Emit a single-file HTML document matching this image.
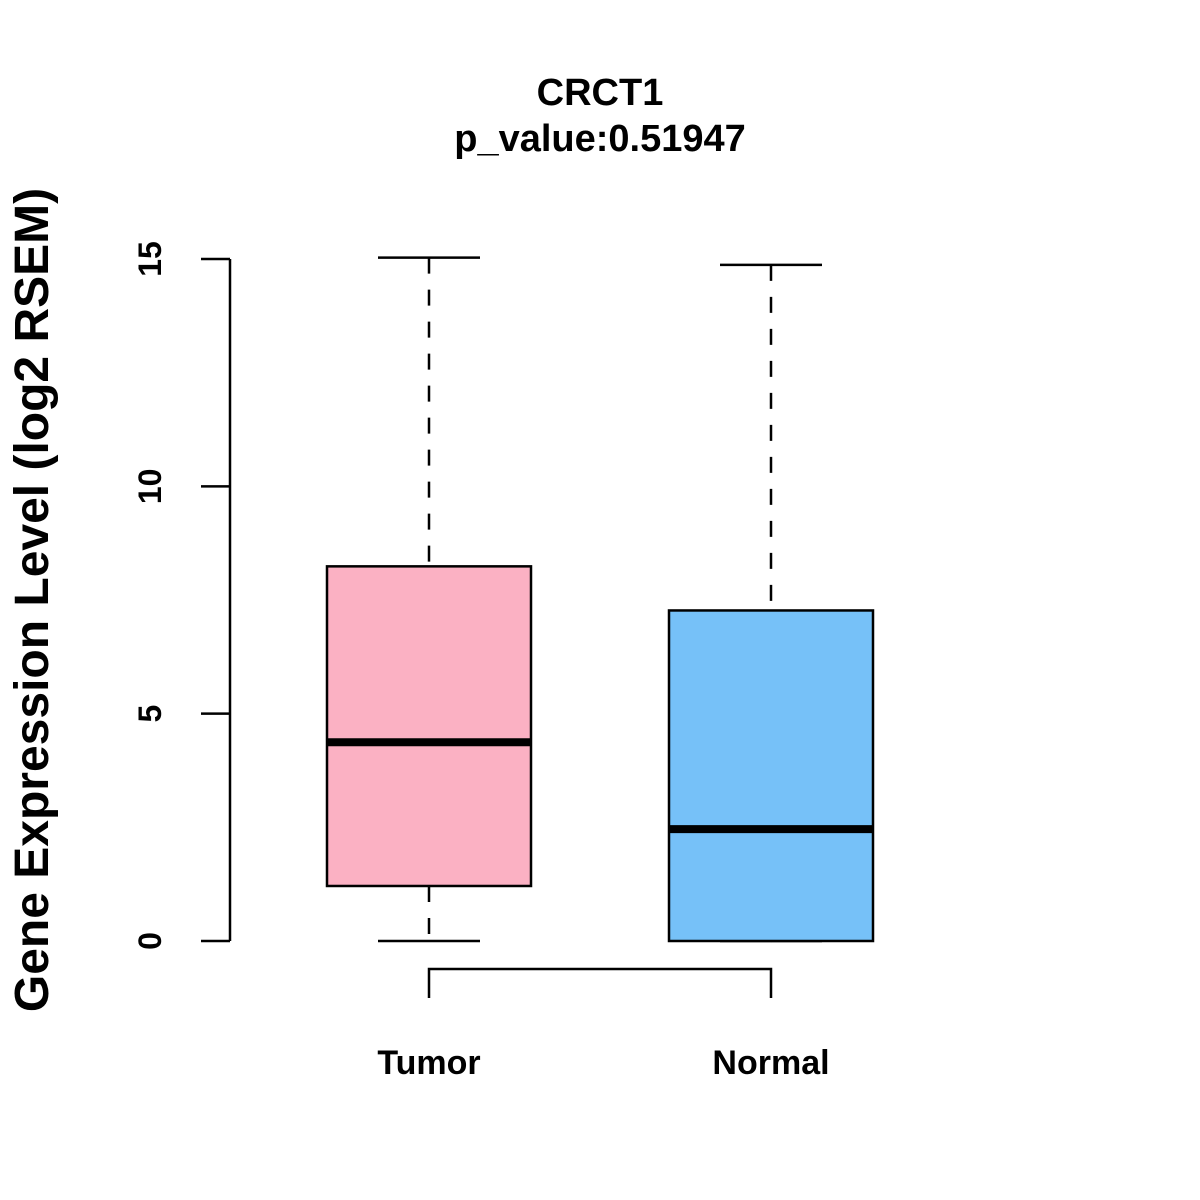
<!DOCTYPE html>
<html><head><meta charset="utf-8"><style>
body{margin:0;background:#fff}
svg{display:block;font-family:"Liberation Sans",Arial,sans-serif;font-weight:bold}
</style></head><body>
<svg id="chart" width="1200" height="1200" viewBox="0 0 1200 1200">
<rect width="1200" height="1200" fill="#fff"/>
<text x="600" y="105" text-anchor="middle" font-size="38">CRCT1</text>
<text x="600" y="151" text-anchor="middle" font-size="38">p_value:0.51947</text>
<text transform="translate(48,600) rotate(-90)" text-anchor="middle" font-size="48">Gene Expression Level (log2 RSEM)</text>
<g id="axis"></g>
<g id="boxes"></g>
</svg>
<script>
const categories=["Tumor","Normal"];
const mins=[0,0];
const q1s=[1.21,0];
const medians=[4.37,2.46];
const q3s=[8.24,7.27];
const maxs=[15.03,14.87];
const fills=["#FBB1C3","#76C1F8"];
const yTicks=[0,5,10,15];
const NS="http://www.w3.org/2000/svg";
const y=v=>941-v*(941-259)/15;
const xc=i=>429+i*342;
function mk(tag,attrs,parent){const e=document.createElementNS(NS,tag);for(const k in attrs)e.setAttribute(k,attrs[k]);parent.appendChild(e);return e;}
const ax=document.getElementById('axis');
const axLine=mk('line',{x1:230,x2:230,y1:y(0),y2:y(15),stroke:'#000','stroke-width':2.5},ax);


yTicks.forEach(t=>{
 const l=mk('line',{x1:201,x2:230,y1:y(t),y2:y(t),stroke:'#000','stroke-width':2.5},ax);
 
 
 const tx=mk('text',{transform:`translate(161,${y(t)}) rotate(-90)`,'text-anchor':'middle','font-size':32},ax);
 tx.textContent=t;
 
 
});
const br=mk('path',{d:`M${xc(0)},998 V969 H${xc(1)} V998`,fill:'none',stroke:'#000','stroke-width':2.5},ax);


const bx=document.getElementById('boxes');
categories.forEach((c,i)=>{
 const g=mk('g',{},bx);
 
 
 const cx=xc(i),hw=102;
 mk('line',{x1:cx,x2:cx,y1:y(maxs[i]),y2:y(q3s[i]),stroke:'#000','stroke-width':2.5,'stroke-dasharray':'16 16'},g);
 mk('line',{x1:cx,x2:cx,y1:y(q1s[i]),y2:y(mins[i]),stroke:'#000','stroke-width':2.5,'stroke-dasharray':'16 16'},g);
 mk('line',{x1:cx-51,x2:cx+51,y1:y(maxs[i]),y2:y(maxs[i]),stroke:'#000','stroke-width':2.5},g);
 mk('line',{x1:cx-51,x2:cx+51,y1:y(mins[i]),y2:y(mins[i]),stroke:'#000','stroke-width':2.5},g);
 mk('rect',{x:cx-hw,y:y(q3s[i]),width:2*hw,height:y(q1s[i])-y(q3s[i]),fill:fills[i],stroke:'#000','stroke-width':2.5},g);
 mk('line',{x1:cx-hw,x2:cx+hw,y1:y(medians[i]),y2:y(medians[i]),stroke:'#000','stroke-width':8},g);
 const t=mk('text',{x:cx,y:1074,'text-anchor':'middle','font-size':34},bx);
 t.textContent=c;
 
 
});
</script>
</body></html>
